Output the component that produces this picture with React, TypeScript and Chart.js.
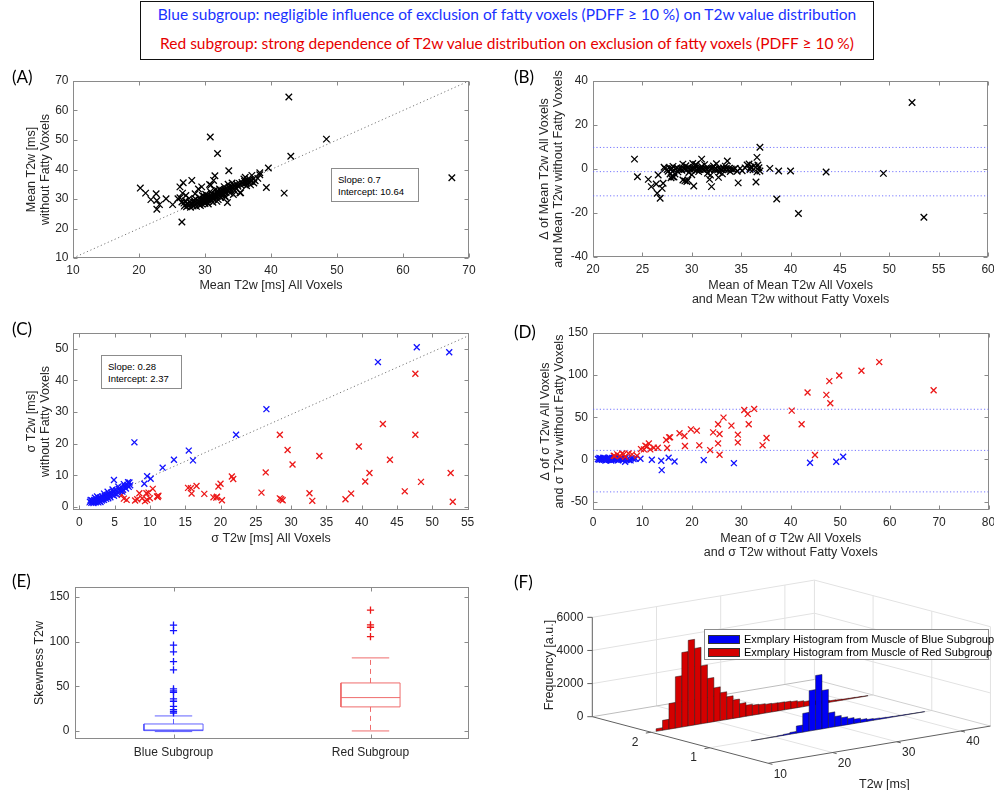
import React, { useEffect, useRef } from "react";
import { Chart, registerables } from "chart.js";

Chart.register(...registerables);

// ===================== DATA =====================
// (A) [mean T2w all voxels, mean T2w without fatty voxels]
const panelAPoints: [number, number][] = [
  [42.7, 64.6], [30.8, 51.0], [48.4, 50.3], [31.9, 45.4], [43.0, 44.5], [39.6, 40.5], [67.4, 37.2],
  [33.6, 39.6], [31.5, 37.9], [38.3, 38.9], [37.1, 38.0], [39.3, 33.9], [42.0, 32.0], [35.4, 32.1],
  [33.4, 28.8], [26.5, 22.2], [20.2, 33.7], [21.0, 32.0], [22.6, 31.8], [21.8, 29.8], [22.7, 29.5],
  [22.7, 26.5], [23.1, 28.1], [24.1, 30.1], [25.1, 28.1], [25.9, 30.1], [26.2, 34.1], [26.6, 32.0],
  [26.7, 35.5], [28.0, 36.3], [27.9, 28.4], [29.5, 34.1], [30.9, 34.7], [31.3, 36.3],
  [27.2, 27.4], [27.5, 27.8], [27.8, 27.2], [28.0, 28.3], [28.2, 27.6], [28.4, 28.8], [28.5, 28.0],
  [28.7, 27.5], [28.9, 28.6], [29.0, 29.2], [29.1, 28.1], [29.3, 28.9], [29.4, 29.6], [29.5, 28.4],
  [29.6, 29.1], [29.7, 30.0], [29.8, 29.4], [29.9, 28.8], [30.0, 30.3], [30.1, 29.6], [30.2, 29.0],
  [30.3, 30.6], [30.4, 29.9], [30.5, 30.2], [30.6, 29.3], [30.7, 30.8], [30.8, 30.1], [30.9, 29.7],
  [31.0, 31.0], [31.1, 30.4], [31.2, 31.4], [31.3, 29.9], [31.4, 30.8], [31.5, 31.6], [31.6, 30.5],
  [31.7, 31.1], [31.8, 32.0], [31.9, 30.9], [32.0, 31.5], [32.1, 32.3], [32.2, 31.0], [32.3, 31.8],
  [32.4, 32.6], [32.5, 31.4], [32.6, 32.1], [32.7, 33.0], [32.8, 31.7], [32.9, 32.5], [33.0, 33.2],
  [33.2, 32.2], [33.3, 33.5], [33.5, 32.8], [33.7, 33.9], [33.9, 33.1], [34.0, 34.3], [34.2, 33.6],
  [34.4, 34.6], [34.6, 33.9], [34.8, 35.0], [35.0, 34.3], [35.2, 35.3], [35.4, 34.8], [35.6, 35.6],
  [35.8, 35.0], [36.0, 36.0], [36.2, 35.4], [36.4, 36.3], [36.6, 35.6], [36.8, 36.6], [37.0, 35.9],
  [37.3, 36.8], [37.6, 36.2], [38.0, 37.0], [38.3, 38.2], [36.1, 37.4], [35.9, 36.8], [36.3, 34.5],
  [36.9, 34.8], [37.4, 35.4], [29.2, 30.4], [30.1, 31.6], [29.6, 31.2], [30.8, 32.5], [31.5, 33.1],
  [28.3, 29.6], [27.7, 29.0], [27.0, 29.3], [26.8, 28.6], [27.3, 28.4], [30.5, 28.3], [31.2, 28.9],
  [32.0, 29.8], [31.8, 29.2], [33.0, 31.0], [33.8, 32.0], [34.5, 32.8], [35.3, 32.1], [30.3, 31.2],
  [31.0, 32.0], [32.2, 33.4], [32.9, 34.2], [33.5, 35.0], [34.1, 35.4], [30.0, 28.5], [29.3, 27.8],
  [28.6, 29.9], [29.9, 30.9], [31.9, 32.8], [32.4, 30.5], [33.1, 30.6], [34.3, 31.5], [27.6, 30.2],
  [26.9, 27.7], [26.5, 29.0], [26.2, 30.4], [27.1, 31.2], [28.5, 31.8], [29.0, 33.4], [30.7, 34.9],
];
const panelAIdentity: [number, number][] = [[10, 10], [70, 70]];
const panelAFit = ["Slope: 0.7", "Intercept: 10.64"];

// (B) [mean of both, difference]
const panelBPoints: [number, number][] = [
  [52.3, 30.2], [53.5, -21.9], [49.4, -2.0], [43.6, -1.4], [40.0, -0.9], [40.8, -20.2], [38.6, -13.6],
  [38.8, -0.9], [37.9, 0.3], [36.9, 9.9], [36.6, 5.3], [36.5, -5.9], [36.7, 1.8], [34.7, -6.3],
  [24.2, 4.5], [24.5, -3.5], [25.6, -4.7], [25.9, -8.0], [26.4, -6.8], [26.5, -11.0], [26.8, -13.3],
  [27.0, -8.8], [27.1, -6.5], [26.6, -2.7], [29.1, -5.0], [29.5, -5.7], [30.2, -7.7], [31.0, 4.5],
  [30.4, 2.1], [31.8, -4.7], [32.0, -8.0], [32.7, -3.8], [33.6, 3.6], [28.1, -3.5], [27.8, -2.3],
  [27.3, 0.2], [27.5, -0.3], [27.7, 0.5], [27.9, -0.1], [28.0, 0.3], [28.2, -0.5], [28.4, 0.1],
  [28.5, 0.6], [28.7, -0.2], [28.9, 0.2], [29.0, -0.6], [29.2, 0.4], [29.3, 0.0], [29.5, -0.3],
  [29.6, 0.7], [29.8, 0.1], [29.9, -0.4], [30.0, 0.3], [30.2, -0.1], [30.3, 0.5], [30.5, -0.6],
  [30.6, 0.2], [30.8, -0.2], [30.9, 0.6], [31.1, 0.0], [31.2, -0.5], [31.4, 0.3], [31.5, -0.1],
  [31.7, 0.4], [31.8, -0.4], [32.0, 0.1], [32.1, 0.6], [32.3, -0.3], [32.4, 0.2], [32.6, -0.5],
  [32.7, 0.4], [32.9, 0.0], [33.0, -0.3], [33.2, 0.5], [33.3, -0.1], [33.5, 0.2], [33.7, -0.4],
  [33.8, 0.4], [34.0, 0.0], [34.2, -0.2], [34.4, 0.3], [28.1, 1.2], [29.4, 1.5], [30.4, 1.8],
  [31.0, 1.1], [32.2, 1.4], [33.4, 1.3], [28.6, -1.3], [29.7, -1.6], [30.7, -1.2], [31.6, -1.9],
  [32.8, -1.5], [33.9, -1.1], [27.6, -1.0], [27.2, 0.8], [30.1, 2.5], [29.1, 2.2], [31.3, 2.0],
  [32.5, 2.4], [28.3, -2.3], [30.0, -2.6], [31.9, -2.8], [33.1, -2.2], [34.6, -1.0], [35.1, -0.8],
  [35.4, 0.5], [35.6, 1.8], [35.8, 2.3], [36.0, 0.9], [36.2, -0.4], [36.3, 1.5], [36.6, -1.3],
  [36.8, 0.6], [36.9, -0.9], [35.9, -0.2], [34.9, 0.3], [28.0, -3.2], [27.9, -4.0], [28.2, -3.6],
  [29.3, -5.4], [29.6, -5.0],
];
const panelBLimits = [9.8, -1.2, -12.2];

// (C) [sigma all voxels, sigma without fatty voxels]
const panelCBlue: [number, number][] = [
  [47.8, 50.5], [52.4, 48.9], [42.3, 45.8], [26.5, 30.9], [22.2, 22.8], [7.8, 20.4], [15.5, 17.8],
  [16.1, 14.7], [13.4, 14.9], [11.8, 12.4], [9.6, 9.7], [10.1, 8.9], [9.2, 7.3], [4.9, 8.5], [7.1, 7.7],
  [1.5, 1.6], [1.7, 1.3], [1.8, 2.0], [1.9, 1.6], [2.0, 1.2], [2.1, 2.2], [2.2, 1.8], [2.3, 1.4],
  [2.4, 2.5], [2.5, 2.0], [2.6, 1.6], [2.7, 2.8], [2.8, 2.2], [2.9, 1.8], [3.0, 3.0], [3.1, 2.5],
  [3.2, 2.0], [3.3, 3.3], [3.4, 2.7], [3.5, 2.2], [3.6, 3.5], [3.7, 3.0], [3.8, 2.5], [3.9, 3.8],
  [4.0, 3.2], [4.1, 2.7], [4.2, 4.2], [4.3, 3.6], [4.4, 3.0], [4.5, 4.5], [4.6, 3.9], [4.8, 4.8],
  [5.0, 4.2], [5.2, 5.2], [5.4, 4.6], [5.6, 5.7], [5.8, 5.0], [6.0, 6.1], [6.2, 5.4], [6.4, 6.5],
  [6.6, 5.8], [6.8, 6.9], [7.0, 6.3], [3.0, 1.5], [2.5, 3.3], [3.5, 4.2], [4.0, 4.8], [2.2, 2.9],
  [4.7, 5.5], [5.5, 6.4], [6.3, 7.2], [6.9, 7.8], [7.2, 6.8], [1.6, 2.2], [2.0, 1.7], [2.7, 1.4],
  [3.3, 2.4], [4.9, 3.5], [5.3, 4.0], [6.1, 4.8],
];
const panelCRed: [number, number][] = [
  [47.6, 42.1], [43.0, 26.2], [47.6, 22.8], [28.4, 22.8], [29.5, 18.0], [30.2, 13.4], [34.0, 16.1],
  [39.6, 19.1], [44.0, 14.9], [41.1, 10.7], [40.5, 8.0], [52.6, 10.7], [48.4, 7.9], [46.1, 4.9],
  [52.9, 1.6], [26.4, 10.9], [25.8, 4.5], [28.4, 2.7], [28.6, 2.4], [28.8, 2.1], [32.6, 4.3],
  [33.0, 1.9], [37.7, 2.4], [38.5, 4.2], [21.6, 9.6], [21.8, 8.8], [20.0, 7.3], [19.7, 6.4],
  [19.5, 3.2], [20.2, 2.1], [19.0, 3.0], [17.7, 4.1], [16.6, 6.6], [15.8, 5.9], [15.9, 4.2],
  [15.4, 6.0], [11.2, 3.5], [11.0, 3.3], [10.4, 5.7], [9.8, 4.5], [10.0, 2.7], [9.5, 4.3], [8.5, 4.3],
  [8.9, 2.7], [8.2, 2.4], [6.7, 2.2], [6.3, 2.6], [6.0, 3.8], [9.3, 1.8], [7.9, 2.0], [11.1, 3.1],
  [9.6, 2.2], [19.4, 2.9],
];
const panelCIdentity: [number, number][] = [[1, 0.5], [55, 54]];
const panelCFit = ["Slope: 0.28", "Intercept: 2.37"];

// (D) [mean of sigma, difference of sigma]
const panelDBlue: [number, number][] = [
  [50.6, 3.2], [49.2, -2.8], [43.9, -4.0], [28.5, -4.4], [22.4, -0.8], [16.5, -2.4], [15.3, 2.0],
  [13.8, -1.6], [13.9, -12.7], [11.9, -0.4], [9.6, 0.8], [6.5, -2.8], [7.6, -1.2], [8.6, 0.8],
  [1.0, 0.5], [1.2, -0.3], [1.4, 0.8], [1.5, 0.0], [1.6, 1.2], [1.8, -0.5], [1.9, 0.4], [2.0, 1.0],
  [2.2, -0.2], [2.3, 0.6], [2.4, 1.5], [2.6, 0.1], [2.7, -0.8], [2.8, 0.9], [3.0, 0.3], [3.1, 1.6],
  [3.2, -0.4], [3.4, 0.7], [3.5, 1.2], [3.6, -0.1], [3.8, 0.5], [3.9, 1.8], [4.0, -0.6], [4.2, 0.8],
  [4.3, 0.2], [4.5, 1.3], [4.6, -0.3], [4.8, 0.6], [5.0, 1.0], [5.2, -0.2], [5.4, 0.7], [5.6, 1.5],
  [5.8, 0.1], [6.0, -0.9], [6.2, 0.5], [6.5, 1.1], [6.8, -0.5], [7.0, 0.3], [2.1, 2.0], [3.3, 2.2],
  [1.3, 1.9], [4.4, 2.4], [2.5, -1.3], [3.7, -1.5], [5.1, -1.2], [7.3, -0.8], [7.8, 1.6], [8.2, 0.5],
];
const panelDRed: [number, number][] = [
  [57.9, 115.5], [54.3, 105.2], [49.8, 99.6], [47.8, 92.9], [47.2, 76.6], [48.0, 66.7], [43.4, 79.4],
  [68.9, 82.1], [40.2, 57.9], [42.2, 41.7], [44.9, 5.2], [32.6, 59.9], [30.6, 58.7], [31.3, 54.0],
  [31.5, 41.7], [26.4, 49.6], [25.3, 41.7], [28.0, 40.1], [24.3, 32.1], [25.6, 30.2], [25.3, 19.0],
  [25.6, 5.6], [29.3, 29.4], [29.3, 20.2], [35.1, 25.4], [34.3, 16.7], [23.7, 11.1], [21.5, 16.7],
  [21.0, 34.1], [19.8, 35.7], [18.5, 27.8], [17.5, 31.0], [18.6, 15.9], [15.4, 26.2], [14.8, 23.0],
  [15.0, 13.5], [15.6, 26.2], [13.1, 13.9], [12.3, 13.9], [11.3, 19.0], [10.6, 16.3], [10.3, 11.9],
  [9.7, 12.3], [11.6, 11.9], [10.9, 15.1], [7.9, 6.0], [7.2, 7.1], [6.2, 6.0], [5.5, 4.0], [4.9, 6.0],
  [4.2, 4.4], [6.5, 3.2], [8.9, 4.4], [5.9, 7.1], [4.4, 4.0],
];
const panelDLimits = [59.5, 10.7, -38.5];

// (E) box plot of skewness
const boxCategories = ["Blue Subgroup", "Red Subgroup"];
const boxQ1 = [0.4, 26.9];
const boxMedian = [1.1, 37.3];
const boxQ3 = [7.8, 53.7];
const boxWhiskerLow = [-0.7, 0];
const boxWhiskerHigh = [16.8, 81.7];
const boxOutliersBlue = [118.3, 112.3, 95.9, 88.4, 77.6, 68.3, 47.0, 44.8, 43.3, 35.8, 33.2, 27.6, 23.9, 22.0, 20.1];
const boxOutliersRed = [135.1, 118.7, 116.0, 105.6];

// (F) exemplary histograms (bin centre T2w [ms], frequency)
const histRedCenters = [11.3, 12.3, 13.3, 14.3, 15.3, 16.3, 17.3, 18.3, 19.3, 20.3, 21.3, 22.3, 23.3, 24.3, 25.3, 26.3, 27.3, 28.3, 29.3, 30.3, 31.3, 32.3, 33.3, 34.3, 35.3, 36.3, 37.3, 38.3, 39.3, 40.3, 41.3, 42.3, 43.3];
const histRedCounts = [160, 600, 1550, 3100, 4500, 5170, 4620, 3500, 2670, 2040, 1680, 1370, 1110, 830, 670, 600, 570, 525, 500, 485, 465, 425, 360, 300, 230, 170, 120, 90, 70, 55, 45, 35, 25];
const histBlueCenters = [17, 18, 19, 20, 21, 22, 23, 24, 25, 26, 27, 28, 29, 30, 31, 32, 33, 34, 35, 36, 37, 38, 39, 40, 41, 42, 43];
const histBlueCounts = [5, 8, 12, 20, 35, 60, 110, 430, 1130, 2440, 3290, 2320, 900, 620, 480, 360, 260, 170, 110, 80, 60, 45, 35, 25, 20, 15, 10];
const histGroupRed = 2;
const histGroupBlue = 1;
const histBinWidth = 1;
const histTTicks = [10, 20, 30, 40];
const histGTicks = [1, 2];
const histZTicks = [0, 2000, 4000, 6000];
const histLegend = ["Exmplary Histogram from Muscle of Blue Subgroup", "Exmplary Histogram from Muscle of Red Subgroup"];

// ===================== STYLE =====================
const AX_FONT = "'Liberation Sans', Arial, Helvetica, sans-serif";
const LABEL_FONT = "Lato, 'Open Sans', sans-serif";
const TXT = "#262626";
const BOX_LINE = "#8a8a8a";
const BLUE = "rgb(18,18,255)";
const RED = "rgb(236,24,24)";
const LIMIT_BLUE = "rgba(95,95,255,0.85)";

Chart.defaults.font.family = AX_FONT;

const matlabBox = {
  id: "matlabBox",
  beforeDatasetsDraw(chart: any) {
    const { ctx, chartArea: a, scales } = chart;
    ctx.save();
    ctx.strokeStyle = BOX_LINE;
    ctx.lineWidth = 1;
    const l = Math.round(a.left) + 0.5, t = Math.round(a.top) + 0.5;
    const r = Math.round(a.right) - 0.5, b = Math.round(a.bottom) - 0.5;
    ctx.strokeRect(l, t, r - l, b - t);
    const L = 4;
    ctx.beginPath();
    for (const tk of scales.x.ticks) {
      const px = Math.round(scales.x.getPixelForValue(tk.value)) + 0.5;
      ctx.moveTo(px, b); ctx.lineTo(px, b - L);
      ctx.moveTo(px, t); ctx.lineTo(px, t + L);
    }
    for (const tk of scales.y.ticks) {
      const py = Math.round(scales.y.getPixelForValue(tk.value)) + 0.5;
      ctx.moveTo(l, py); ctx.lineTo(l + L, py);
      ctx.moveTo(r, py); ctx.lineTo(r - L, py);
    }
    ctx.stroke();
    ctx.restore();
  },
};

type Lay = {
  w: number; h: number; areaL: number; areaT: number; areaR: number; areaB: number;
  xTitlePad: number; yTitlePad: number; xTickPad: number; yTickPad: number;
};

function axisOpts(kind: "x" | "y", L: Lay, min: number, max: number, step: number, title: string | string[]) {
  return {
    type: "linear",
    position: kind === "x" ? "bottom" : "left",
    min, max,
    afterFit: (s: any) => {
      if (kind === "x") s.height = L.h - L.areaB; else s.width = L.areaL;
      s.paddingLeft = 0; s.paddingRight = 0; s.paddingTop = 0; s.paddingBottom = 0;
    },
    ticks: {
      stepSize: step, includeBounds: false, autoSkip: false, maxRotation: 0, minRotation: 0,
      padding: kind === "x" ? L.xTickPad : L.yTickPad, color: TXT, font: { family: AX_FONT, size: 12 },
    },
    grid: { display: false, drawTicks: false },
    border: { display: false },
    title: {
      display: true, text: title, color: TXT,
      font: { family: AX_FONT, size: 12.5, lineHeight: 1.1 },
      padding: kind === "x" ? { top: 0, bottom: L.xTitlePad } : { top: L.yTitlePad, bottom: 0 },
    },
  };
}

function baseOptions(L: Lay, scales: any) {
  return {
    responsive: false,
    animation: false,
    devicePixelRatio: 1,
    events: [],
    layout: { padding: { top: L.areaT, right: L.w - L.areaR, left: 0, bottom: 0 } },
    plugins: { legend: { display: false }, tooltip: { enabled: false } },
    scales,
  };
}

const pts = (arr: [number, number][]) => arr.map(([x, y]) => ({ x, y }));

function markers(data: [number, number][], color: string, r: number) {
  return {
    type: "scatter", data: pts(data), pointStyle: "crossRot", pointRadius: r,
    borderColor: color, backgroundColor: color, pointBorderWidth: 1.3, borderWidth: 1.3,
  };
}

function refLine(data: [number, number][], color: string, dash: number[]) {
  return {
    type: "line", data: pts(data), borderColor: color, borderWidth: 1, borderDash: dash,
    pointRadius: 0, fill: false, tension: 0,
  };
}

function hLines(values: number[], xMin: number, xMax: number) {
  return values.map((v) => refLine([[xMin, v], [xMax, v]], LIMIT_BLUE, [1.2, 2.2]));
}

// ---------- panel configs ----------
const layA: Lay = { w: 497, h: 245, areaL: 73, areaT: 21, areaR: 469, areaB: 198, xTitlePad: 12.4, yTitlePad: 24.8, xTickPad: 5, yTickPad: 4.5 };
const layB: Lay = { w: 497, h: 250, areaL: 96, areaT: 21, areaR: 493, areaB: 197, xTitlePad: 3.8, yTitlePad: 41, xTickPad: 5.5, yTickPad: 5 };
const layC: Lay = { w: 497, h: 250, areaL: 73, areaT: 23, areaR: 469, areaB: 200, xTitlePad: 14.8, yTitlePad: 24.8, xTickPad: 5, yTickPad: 4.5 };
const layD: Lay = { w: 497, h: 250, areaL: 96, areaT: 23, areaR: 492, areaB: 200, xTitlePad: 0.6, yTitlePad: 42, xTickPad: 5.5, yTickPad: 5 };
const layE: Lay = { w: 497, h: 230, areaL: 75, areaT: 27, areaR: 469, areaB: 179, xTitlePad: 0, yTitlePad: 33, xTickPad: 6.5, yTickPad: 5.5 };

function configA() {
  return {
    type: "scatter",
    data: { datasets: [markers(panelAPoints, "#000", 4.6), refLine(panelAIdentity, "#777", [1.2, 2.6])] },
    options: baseOptions(layA, {
      x: axisOpts("x", layA, 10, 70, 10, "Mean T2w [ms] All Voxels"),
      y: axisOpts("y", layA, 10, 70, 10, ["Mean T2w [ms]", "without Fatty Voxels"]),
    }),
    plugins: [matlabBox],
  };
}

function configB() {
  return {
    type: "scatter",
    data: { datasets: [markers(panelBPoints, "#000", 4.6), ...hLines(panelBLimits, 20, 60)] },
    options: baseOptions(layB, {
      x: axisOpts("x", layB, 20, 60, 5, ["Mean of Mean T2w All Voxels", "and Mean T2w without Fatty Voxels"]),
      y: axisOpts("y", layB, -40, 40, 20, ["\u0394 of Mean T2w All Voxels", "and Mean T2w without Fatty Voxels"]),
    }),
    plugins: [matlabBox],
  };
}

function configC() {
  return {
    type: "scatter",
    data: {
      datasets: [markers(panelCBlue, BLUE, 4.2), markers(panelCRed, RED, 4.2), refLine(panelCIdentity, "#777", [1.2, 2.6])],
    },
    options: baseOptions(layC, {
      x: axisOpts("x", layC, -0.9, 55.2, 5, "\u03c3 T2w [ms] All Voxels"),
      y: axisOpts("y", layC, -1, 55, 10, ["\u03c3 T2w [ms]", "without Fatty Voxels"]),
    }),
    plugins: [matlabBox],
  };
}

function configD() {
  return {
    type: "scatter",
    data: { datasets: [markers(panelDRed, RED, 4.2), markers(panelDBlue, BLUE, 4.2), ...hLines(panelDLimits, 0, 80)] },
    options: baseOptions(layD, {
      x: axisOpts("x", layD, 0, 80, 10, ["Mean of \u03c3 T2w All Voxels", "and \u03c3 T2w without Fatty Voxels"]),
      y: axisOpts("y", layD, -60, 150, 50, ["\u0394 of \u03c3 T2w All Voxels", "and \u03c3 T2w without Fatty Voxels"]),
    }),
    plugins: [matlabBox],
  };
}

function configE() {
  const BOX_HALF = 0.15;
  const CAP_HALF = 0.095;
  const lineColors = ["rgba(70,70,255,0.85)", "rgba(238,100,100,0.95)"];
  const ds: any[] = [];
  boxCategories.forEach((_, i) => {
    const c = i + 1;
    const col = lineColors[i];
    const solid = (data: [number, number][]) => ({
      type: "line", data: pts(data), borderColor: col, borderWidth: 1, pointRadius: 0, fill: false, tension: 0,
    });
    ds.push(solid([[c - BOX_HALF, boxQ1[i]], [c + BOX_HALF, boxQ1[i]], [c + BOX_HALF, boxQ3[i]], [c - BOX_HALF, boxQ3[i]], [c - BOX_HALF, boxQ1[i]]]));
    ds.push(solid([[c - BOX_HALF, boxMedian[i]], [c + BOX_HALF, boxMedian[i]]]));
    ds.push({ ...solid([[c, boxQ3[i]], [c, boxWhiskerHigh[i]]]), borderDash: [5, 4] });
    ds.push({ ...solid([[c, boxQ1[i]], [c, boxWhiskerLow[i]]]), borderDash: [5, 4] });
    ds.push(solid([[c - CAP_HALF, boxWhiskerHigh[i]], [c + CAP_HALF, boxWhiskerHigh[i]]]));
    ds.push(solid([[c - CAP_HALF, boxWhiskerLow[i]], [c + CAP_HALF, boxWhiskerLow[i]]]));
  });
  ds.unshift({
    type: "scatter", data: boxOutliersBlue.map((y) => ({ x: 1, y })), pointStyle: "cross", pointRadius: 3.6,
    borderColor: BLUE, pointBorderWidth: 1.3, borderWidth: 1.3,
  });
  ds.unshift({
    type: "scatter", data: boxOutliersRed.map((y) => ({ x: 2, y })), pointStyle: "cross", pointRadius: 3.6,
    borderColor: RED, pointBorderWidth: 1.3, borderWidth: 1.3,
  });
  const x: any = axisOpts("x", layE, 0.5, 2.5, 1, "");
  x.title = { display: false };
  x.afterBuildTicks = (s: any) => { s.ticks = [{ value: 1 }, { value: 2 }]; };
  x.ticks.callback = (v: number) => boxCategories[Math.round(v) - 1];
  return {
    type: "scatter",
    data: { datasets: ds },
    options: baseOptions(layE, {
      x,
      y: axisOpts("y", layE, -9, 161, 50, "Skewness T2w"),
    }),
    plugins: [matlabBox],
  };
}

// ---------- (F) pseudo-3D histogram through the chart's linear scales ----------
const fTRange = [10, 44.6];
const fGRange = [0, 3];
const fZRange = [0, 6000];
const fView = { origin: [95.3, 156.7], tVec: [6.42, -1.076], gVec: [58.67, 15.53], zPerUnit: 0.01656 };

function fProject(chart: any, t: number, g: number, z: number): [number, number] {
  const dt = t - fTRange[0];
  const dg = fGRange[1] - g;
  const vx = fView.origin[0] + dt * fView.tVec[0] + dg * fView.gVec[0];
  const vy = fView.origin[1] + dt * fView.tVec[1] + dg * fView.gVec[1] - z * fView.zPerUnit;
  return [chart.scales.x.getPixelForValue(vx), chart.scales.y.getPixelForValue(vy)];
}

const hist3d = {
  id: "hist3d",
  afterDatasetsDraw(chart: any) {
    const ctx = chart.ctx;
    const P = (t: number, g: number, z: number) => fProject(chart, t, g, z);
    const seg = (a: [number, number], b: [number, number], color: string, w = 1) => {
      ctx.beginPath(); ctx.strokeStyle = color; ctx.lineWidth = w;
      ctx.moveTo(a[0], a[1]); ctx.lineTo(b[0], b[1]); ctx.stroke();
    };
    const [t0, t1] = fTRange, [g0, g1] = fGRange, [z0, z1] = fZRange;
    ctx.save();
    const GRID = "#e2e2e2";
    for (const z of histZTicks) {
      if (z === 0) continue;
      seg(P(t0, g1, z), P(t1, g1, z), GRID);
      seg(P(t1, g1, z), P(t1, g0, z), GRID);
    }
    for (const t of histTTicks) {
      if (t === t0) continue;
      seg(P(t, g1, z0), P(t, g1, z1), GRID);
      seg(P(t, g1, 0), P(t, g0, 0), GRID);
    }
    for (const g of histGTicks) {
      seg(P(t1, g, z0), P(t1, g, z1), GRID);
      seg(P(t0, g, 0), P(t1, g, 0), GRID);
    }
    seg(P(t1, g1, z0), P(t1, g1, z1), GRID);
    seg(P(t1, g0, z0), P(t1, g0, z1), GRID);
    seg(P(t0, g1, 0), P(t1, g1, 0), "#bdbdbd");
    seg(P(t1, g1, 0), P(t1, g0, 0), "#d0d0d0");

    const AX = "#606060";
    seg(P(t0, g1, z0), P(t0, g1, z1), AX);
    seg(P(t0, g1, 0), P(t0, g0, 0), AX);
    seg(P(t0, g0, 0), P(t1, g0, 0), AX);
    for (const z of histZTicks) { const p = P(t0, g1, z); seg([p[0] - 5, p[1]], p, AX); }
    for (const t of histTTicks) seg(P(t, g0, 0), P(t, g0 - 0.07, 0), AX);
    for (const g of histGTicks) seg(P(t0, g, 0), P(t0 - 0.8, g, 0), AX);

    const drawHist = (centers: number[], counts: number[], g: number, fill: string) => {
      ctx.lineWidth = 0.7;
      ctx.strokeStyle = "rgba(20,20,20,0.65)";
      ctx.fillStyle = fill;
      centers.forEach((c, i) => {
        const a = c - histBinWidth / 2, b = c + histBinWidth / 2;
        const q = [P(a, g, 0), P(b, g, 0), P(b, g, counts[i]), P(a, g, counts[i])];
        ctx.beginPath();
        ctx.moveTo(q[0][0], q[0][1]);
        for (let k = 1; k < 4; k++) ctx.lineTo(q[k][0], q[k][1]);
        ctx.closePath();
        ctx.fill();
        ctx.stroke();
      });
    };
    drawHist(histRedCenters, histRedCounts, histGroupRed, "rgb(212,0,0)");
    drawHist(histBlueCenters, histBlueCounts, histGroupBlue, "rgb(0,0,245)");

    ctx.fillStyle = TXT;
    ctx.font = `12px ${AX_FONT}`;
    ctx.textBaseline = "middle";
    ctx.textAlign = "right";
    for (const z of histZTicks) { const p = P(t0, g1, z); ctx.fillText(String(z), p[0] - 9, p[1]); }
    ctx.textAlign = "center";
    for (const t of histTTicks) { const p = P(t, g0, 0); ctx.fillText(String(t), p[0] + 12, p[1] + 11); }
    for (const g of histGTicks) { const p = P(t0, g, 0); ctx.fillText(String(g), p[0] - 16, p[1] + 10); }
    ctx.font = `12.5px ${AX_FONT}`;
    const tt = P((t0 + t1) / 2, g0, 0);
    ctx.fillText("T2w [ms]", tt[0] + 5, tt[1] + 40);
    const zt = P(t0, g1, (z0 + z1) / 2);
    ctx.translate(zt[0] - 43, zt[1] - 2);
    ctx.rotate(-Math.PI / 2);
    ctx.fillText("Frequency [a.u.]", 0, 0);
    ctx.restore();
  },
};

function configF() {
  return {
    type: "scatter",
    data: { datasets: [] },
    options: {
      responsive: false, animation: false, devicePixelRatio: 1, events: [],
      layout: { padding: 0 },
      plugins: { legend: { display: false }, tooltip: { enabled: false } },
      scales: {
        x: { type: "linear", min: 0, max: 497, display: false },
        y: { type: "linear", min: 0, max: 230, reverse: true, display: false },
      },
    },
    plugins: [hist3d],
  };
}

// ===================== COMPONENTS =====================
function ChartPanel(props: { left: number; top: number; width: number; height: number; make: () => any }) {
  const ref = useRef<HTMLCanvasElement | null>(null);
  useEffect(() => {
    const chart = new Chart(ref.current as HTMLCanvasElement, props.make());
    return () => chart.destroy();
  }, []);
  return (
    <canvas
      ref={ref}
      width={props.width}
      height={props.height}
      style={{ position: "absolute", left: props.left, top: props.top, width: props.width, height: props.height }}
    />
  );
}

function PanelLabel({ text, left, cy }: { text: string; left: number; cy: number }) {
  return (
    <div style={{ position: "absolute", left, top: cy - 11, height: 22, lineHeight: "22px", fontFamily: LABEL_FONT, fontSize: 17, color: "#000" }}>
      {text}
    </div>
  );
}

function FitBox({ lines, left, top, width, height }: { lines: string[]; left: number; top: number; width: number; height: number }) {
  return (
    <div
      style={{
        position: "absolute", left, top, width, height, boxSizing: "border-box", border: "1px solid #8c8c8c",
        background: "#fff", fontFamily: AX_FONT, fontSize: 9.5, color: "#000", padding: "5px 0 0 6px", lineHeight: "12px",
      }}
    >
      {lines.map((l) => (<div key={l}>{l}</div>))}
    </div>
  );
}

export default function App() {
  return (
    <div style={{ position: "absolute", left: 0, top: 0, width: 994, height: 790, background: "#fff", overflow: "hidden" }}>
      <div
        style={{
          position: "absolute", left: 140, top: 1, width: 734, height: 59, boxSizing: "border-box",
          border: "1.6px solid #111", fontFamily: LABEL_FONT, fontSize: 15.5, textAlign: "center", background: "#fff",
        }}
      >
        <div style={{ position: "absolute", left: 0, right: 0, top: 1, lineHeight: "22px", color: "rgb(25,50,255)", whiteSpace: "nowrap" }}>
          Blue subgroup: negligible influence of exclusion of fatty voxels (PDFF ≥ 10 %) on T2w value distribution
        </div>
        <div style={{ position: "absolute", left: 0, right: 0, top: 30, lineHeight: "22px", color: "rgb(230,0,0)", whiteSpace: "nowrap" }}>
          Red subgroup: strong dependence of T2w value distribution on exclusion of fatty voxels (PDFF ≥ 10 %)
        </div>
      </div>

      <ChartPanel left={0} top={60} width={497} height={245} make={configA} />
      <ChartPanel left={497} top={60} width={497} height={250} make={configB} />
      <ChartPanel left={0} top={310} width={497} height={250} make={configC} />
      <ChartPanel left={497} top={310} width={497} height={250} make={configD} />
      <ChartPanel left={0} top={560} width={497} height={230} make={configE} />
      <ChartPanel left={497} top={560} width={497} height={230} make={configF} />

      <FitBox lines={panelAFit} left={331} top={168} width={88} height={34} />
      <FitBox lines={panelCFit} left={101} top={355} width={81} height={34} />

      <div
        style={{
          position: "absolute", left: 704, top: 629, width: 285, height: 31, boxSizing: "border-box",
          border: "1px solid #8c8c8c", background: "#fff", fontFamily: AX_FONT, fontSize: 11, color: "#000",
        }}
      >
        {histLegend.map((label, i) => (
          <div key={label} style={{ position: "absolute", left: 3, top: 3 + i * 13, height: 12, display: "flex", alignItems: "center" }}>
            <span
              style={{
                display: "inline-block", width: 32, height: 9, marginRight: 4, boxSizing: "border-box",
                border: "0.7px solid #333", background: i === 0 ? "rgb(0,0,245)" : "rgb(212,0,0)",
              }}
            />
            <span style={{ whiteSpace: "nowrap", lineHeight: "12px" }}>{label}</span>
          </div>
        ))}
      </div>

      <PanelLabel text="(A)" left={12} cy={77} />
      <PanelLabel text="(B)" left={514} cy={77} />
      <PanelLabel text="(C)" left={12} cy={329} />
      <PanelLabel text="(D)" left={514} cy={332} />
      <PanelLabel text="(E)" left={12} cy={581} />
      <PanelLabel text="(F)" left={514} cy={582} />
    </div>
  );
}
